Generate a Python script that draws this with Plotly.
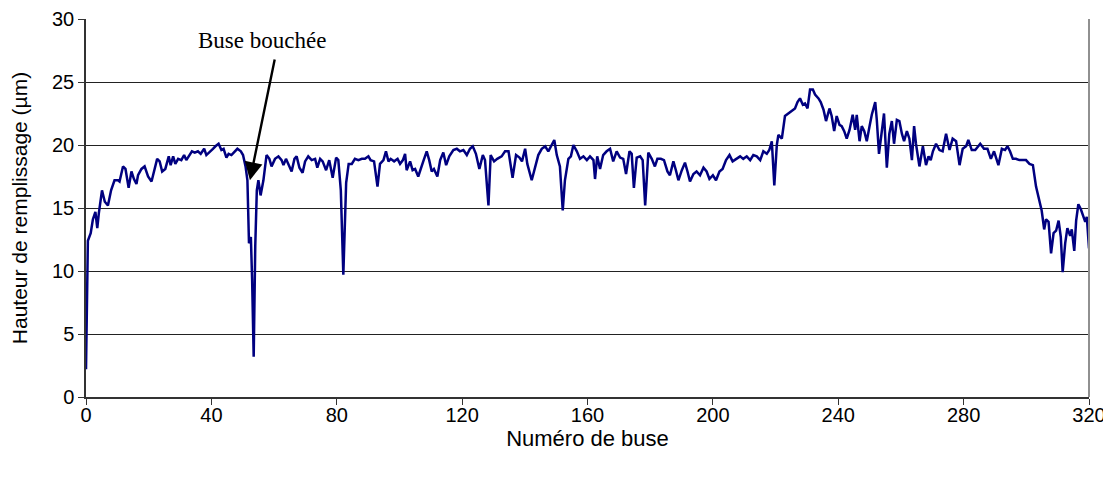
import plotly.graph_objects as go

nozzle = [
    0, 0.6, 1.5, 2.2, 3, 3.6, 4.1, 5.1, 6, 7, 8, 9.1, 10.2, 10.7, 11.8, 12.6, 13.6, 14.5, 15.3, 16.1,
    16.6, 17.7, 18.7, 19.8, 20.9, 21.7, 22.7, 23.5, 24.3, 25.3, 26.4, 27, 27.8, 28.5, 29.4, 30.4, 31.3,
    32, 33.1, 33.8, 34.7, 35.7, 36.6, 37.7, 38.4, 39.5, 40.5, 41.3, 42.3, 43.2, 43.9, 44.8, 45.5, 46.4,
    47.4, 48.3, 49.4, 50.1, 50.9, 51.5, 52.0, 52.6, 53, 53.5, 54.0, 54.5, 55, 55.7, 56.6,
    57.6, 58.5, 59.2, 60.3, 61.4, 62.4, 63, 63.8, 64.6, 65.6, 66.5, 67.2, 68.1, 69.1, 69.9, 70.9, 72,
    73.1, 73.8, 74.7, 75.5, 76.6, 77.6, 78.7, 79.8, 80.5, 81.3, 82.1, 83, 83.8, 84.8, 85.8, 86.9, 88,
    89, 90.1, 90.8, 91.9, 93, 93.8, 94.9, 95.7, 96.5, 97.2, 98.3, 99.4, 100.2, 101.1, 101.8, 102.3,
    103.4, 104.2, 105, 106,
    107.6, 108.7, 109.5, 110.3, 111, 112.1, 113, 114, 114.9, 115.9, 117.2, 118.3, 119.3, 120.4, 121.5,
    122.5, 123.4, 124.4, 125.5, 126.6, 127.3, 128.4, 129.1, 130.2, 131.2, 132.6, 133.7, 134.8, 136.1,
    137.2, 138.3, 139.1, 140.1, 140.8, 142.2, 143.3, 144.3, 145.4, 146.5, 147.5, 148.6, 149.4, 150.2,
    151.2, 152.1, 152.8, 153.9, 154.7, 155.5, 156.6, 157.6, 158.7, 159.8,
    160.8, 161.9, 162.4, 163.1, 164, 165, 166.1, 167.2, 168.2, 169.3, 170.4, 171.4, 172.3, 173.4,
    174.1, 174.8, 175.7, 176.8, 177.6, 178.4, 179.4, 180.5, 181.5, 182.3, 183.4, 184.4, 185.5, 186.3,
    187.4, 188.2, 189, 190.1, 191.1, 191.9, 192.7, 193.8, 194.8, 195.9, 197, 198, 198.9, 200, 201,
    202.1, 203.1, 204.2, 205.3, 206.3, 207.4, 208.7, 209.7, 210.8, 211.9, 212.9, 214,
    215.1, 216.1, 217.2, 218, 218.8, 219.6, 220.4, 220.9, 222, 223, 224.1, 225.2, 226.2, 227, 227.8,
    228.7, 229.4, 230.2, 231, 231.9, 232.6, 233.7, 234.4, 235.3, 236.1, 237.2, 237.9, 238.7, 239.5,
    240.4, 241.1, 241.9, 242.7, 243.6, 244.6, 245.4, 245.9, 246.8, 247.5, 248.3, 249.1, 250, 250.7,
    251.8, 252.3, 253, 253.9, 254.6, 255.5, 256.3, 257.1, 257.8, 258.7, 259.5, 260.3, 261, 261.9,
    262.7, 263.5, 264.2, 264.8, 265.9, 267, 268, 268.8,
    269.5, 270.2, 271.2, 272.3, 273.3, 274.4, 275.5, 276.5, 277.6, 278.7, 279.7, 280.8, 281.5, 282.6,
    283.7, 285.3, 286.5, 287.6, 288.7, 289.7, 291.1, 292.2, 293.2, 294, 294.8, 295.7, 296.7, 297.8,
    298.9, 299.9, 301, 302.1, 303.1, 303.6, 304.4, 304.9, 305.7, 306.3, 307.1, 307.9, 308.7, 309.5,
    310.3, 311, 311.6, 312.4, 313.1, 314, 314.5, 315.3, 315.9, 316.6, 317.4, 318, 318.8, 319.3, 319.8,
    320,
]

hauteur = [
    2.2, 12.4, 13.0, 14.1, 14.7, 13.4, 14.6, 16.4, 15.5, 15.2, 16.4, 17.2, 17.2, 17.1, 18.3, 18.1, 16.6, 17.9, 17.3, 16.9,
    17.6, 18.1, 18.3, 17.5, 17.1, 17.9, 18.9, 18.7, 17.9, 18.1, 19.1, 18.4, 19.1, 18.5, 18.9, 18.8, 19.2,
    18.8, 19.2, 19.5, 19.4, 19.5, 19.3, 19.7, 19.2, 19.5, 19.7, 19.9, 20.1, 19.6, 19.7, 19.0, 19.3, 19.2,
    19.5, 19.7, 19.5, 19.2, 18.3, 17.2, 12.2, 12.7, 9.3, 3.2, 12.0, 16.4, 17.2, 16.0, 17.2,
    19.2, 18.9, 18.3, 18.9, 19.1, 18.8, 18.4, 18.9, 18.5, 17.9, 18.9, 19.1, 18.2, 17.8, 18.7, 19.1, 18.8,
    18.9, 18.2, 18.9, 18.7, 18.0, 18.8, 17.4, 19.0, 18.8, 16.4, 9.7, 17.0, 18.5, 18.5, 18.9, 18.8, 18.9,
    18.9, 19.1, 18.8, 18.7, 16.7, 18.5, 18.8, 19.5, 18.7, 18.9, 18.7, 18.9, 18.5, 18.8, 19.3, 18.0,
    18.7, 18.0, 18.1, 17.5,
    18.7, 19.5, 18.8, 17.9, 18.1, 17.5, 18.8, 19.4, 18.4, 19.1, 19.6, 19.7, 19.5, 19.6, 19.2,
    19.7, 19.9, 19.3, 18.1, 19.2, 18.8, 15.2, 19.2, 18.7, 18.9, 19.1, 19.5, 19.5, 17.4,
    19.2, 19.0, 18.7, 19.7, 18.5, 17.2, 18.3, 19.2, 19.7, 19.9, 19.5, 20.0, 20.4, 19.2,
    18.3, 14.8, 17.2, 18.9, 19.1, 20.0, 19.5, 18.9, 19.1, 18.8,
    19.1, 18.8, 17.3, 19.1, 18.1, 19.2, 19.5, 19.7, 18.7, 19.5, 19.0, 18.9, 17.7, 19.5,
    19.3, 16.6, 19.0, 19.1, 18.8, 15.2, 19.4, 18.9, 18.3, 18.9, 18.9, 18.8, 17.9, 17.6,
    18.7, 18.0, 17.2, 18.0, 18.6, 17.9, 17.1, 17.7, 17.9, 17.6, 18.2, 17.9, 17.3, 17.6, 17.2,
    17.9, 18.1, 18.8, 19.2, 18.7, 18.9, 19.1, 18.9, 19.1, 18.8, 19.2, 19.1,
    18.8, 19.5, 19.3, 19.6, 20.3, 16.8, 20.0, 20.8, 20.5, 22.3, 22.5, 22.7, 22.9, 23.4, 23.7,
    23.2, 23.3, 22.9, 24.4, 24.4, 24.0, 23.7, 23.4, 22.8, 21.9, 22.9, 22.3, 21.1, 22.3,
    21.6, 21.5, 21.1, 20.5, 21.2, 22.4, 21.2, 22.4, 20.3, 21.5, 21.1, 20.3, 21.5, 22.4,
    23.4, 22.0, 19.3, 20.9, 22.5, 18.2, 20.9, 21.9, 20.1, 22.0, 21.9, 20.9, 20.3, 21.1,
    20.5, 18.8, 21.5, 20.1, 18.3, 19.9, 18.4, 19.1,
    18.8, 19.5, 20.1, 19.6, 19.5, 20.9, 19.6, 20.5, 20.3, 18.4, 19.7, 19.9, 20.4, 19.6,
    19.6, 20.1, 19.7, 19.7, 18.9, 19.5, 18.4, 19.7, 19.6, 19.9, 19.5, 18.9, 18.9, 18.8,
    18.8, 18.8, 18.5, 18.4, 16.7, 16.2, 15.2, 14.8, 13.3, 14.1, 13.9, 11.4, 13.0, 13.2,
    14.0, 12.7, 9.9, 12.2, 13.4, 12.8, 13.3, 11.6, 14.0, 15.3, 14.9, 14.5, 13.9, 14.3, 12.7,
    11.8,
]

x_ticks = [0, 40, 80, 120, 160, 200, 240, 280, 320]
y_ticks = [0, 5, 10, 15, 20, 25, 30]

fig = go.Figure()
fig.add_trace(go.Scatter(
    x=nozzle, y=hauteur, mode="lines",
    line=dict(color="#000080", width=2.5),
    showlegend=False, hoverinfo="skip",
))

fig.add_annotation(
    x=52.3, y=17.2, ax=60.3, ay=26.9, xref="x", yref="y", axref="x", ayref="y",
    text="", showarrow=True, arrowhead=2, arrowsize=1.5, arrowwidth=2.4, arrowcolor="black",
)
fig.add_annotation(
    x=56.3, y=28.3, xref="x", yref="y", text="Buse bouchée", showarrow=False,
    font=dict(family="Liberation Serif", size=23, color="black"),
)

fig.add_shape(type="line", xref="paper", yref="paper", x0=1, x1=1, y0=0, y1=1,
              line=dict(color="#909090", width=2))

fig.update_layout(
    width=1103, height=467,
    margin=dict(l=78, r=22, t=11, b=78),
    paper_bgcolor="white", plot_bgcolor="white",
    font=dict(family="Liberation Sans", size=20, color="black"),
    xaxis=dict(
        range=[0, 320], tickvals=x_ticks, showgrid=False, zeroline=False, automargin=False,
        showline=True, linecolor="#333333", linewidth=1.5,
        ticks="outside", ticklen=6, tickcolor="#333333", tickfont=dict(size=20),
        ticklabelstandoff=-7, ticklabeloverflow="allow",
        title=dict(text="Numéro de buse", font=dict(size=22), standoff=6),
    ),
    yaxis=dict(
        range=[0, 30], tickvals=y_ticks, showgrid=True, gridcolor="#222222", gridwidth=1,
        zeroline=False, showline=True, linecolor="#333333", linewidth=1.5, automargin=False,
        ticks="outside", ticklen=6, tickcolor="#333333", tickfont=dict(size=20),
        ticklabeloverflow="allow",
        title=dict(text="Hauteur de remplissage (µm)", font=dict(size=21), standoff=20),
    ),
)

fig.write_html("out.html")
